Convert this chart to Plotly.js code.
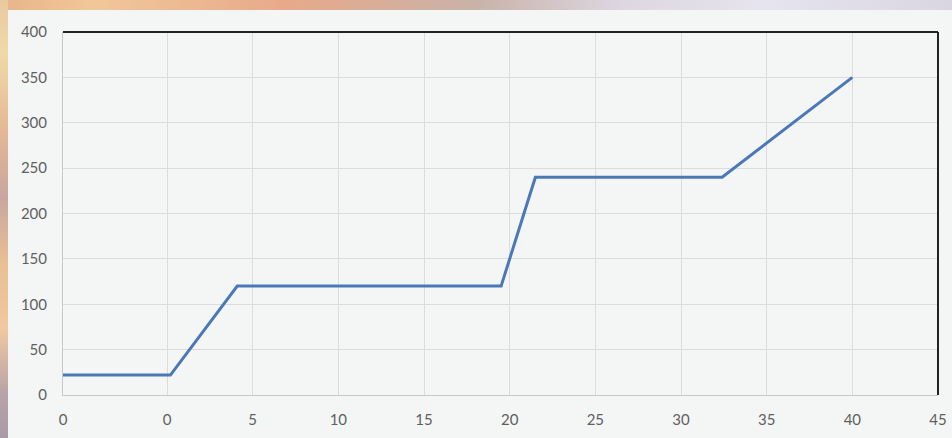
<!DOCTYPE html>
<html>
<head>
<meta charset="utf-8">
<script src="https://cdn.plot.ly/plotly-3.0.1.min.js"></script>
<style>
  html, body { margin: 0; padding: 0; width: 952px; height: 438px; overflow: hidden; }
  body {
    background:
      linear-gradient(90deg, #e9b48a 0%, #f1c79a 10%, #e8a98a 30%, #c9b2a8 50%, #dcd6e0 65%, #e6e4ee 80%, #d9d6e2 100%);
    position: relative;
  }
  #leftstrip {
    position: absolute; left: 0; top: 0; width: 8px; height: 438px;
    background: linear-gradient(180deg, #e8c9a0 0%, #f0d9a8 12%, #e4b894 30%, #c8a6a0 45%, #e9bf93 60%, #f0c9a0 75%, #b8a2a8 90%, #a99aa6 100%);
  }
  #panel {
    position: absolute; left: 8px; top: 10px; width: 944px; height: 428px;
    background: #f4f6f5;
  }
  #chart { position: absolute; left: 0; top: 0; width: 952px; height: 438px; }
</style>
</head>
<body>
<div id="leftstrip"></div>
<div id="panel"></div>
<div id="chart"></div>
<script>
// Data
const xValues = [-6.07, 0.2, 4.1, 19.5, 21.5, 32.4, 40];
const yValues = [22, 22, 120, 120, 240, 240, 350];
const xTickVals = [-6.07, 0, 5, 10, 15, 20, 25, 30, 35, 40, 45];
const xTickText = ["0", "0", "5", "10", "15", "20", "25", "30", "35", "40", "45"];
const yTickVals = [0, 50, 100, 150, 200, 250, 300, 350, 400];

const trace = {
  x: xValues,
  y: yValues,
  type: 'scatter',
  mode: 'lines',
  line: { color: '#4b78b6', width: 3 },
  hoverinfo: 'skip'
};

const layout = {
  width: 952,
  height: 438,
  margin: { l: 63, r: 14, t: 32, b: 43 },
  paper_bgcolor: 'rgba(0,0,0,0)',
  plot_bgcolor: '#f4f6f5',
  showlegend: false,
  font: { family: 'Lato, "Open Sans", sans-serif', size: 15, color: '#5f5f5f' },
  xaxis: {
    range: [-6.07, 45],
    tickmode: 'array',
    tickvals: xTickVals,
    ticktext: xTickText,
    showgrid: true,
    gridcolor: '#dcdcdc',
    gridwidth: 1,
    zeroline: false,
    showline: true,
    linecolor: '#c8c8c8',
    linewidth: 1,
    ticks: '',
    ticklabelstandoff: 11,
    tickfont: { size: 15, color: '#5f5f5f' }
  },
  yaxis: {
    range: [0, 400],
    tickmode: 'array',
    tickvals: yTickVals,
    showgrid: true,
    gridcolor: '#dcdcdc',
    gridwidth: 1,
    zeroline: false,
    showline: true,
    linecolor: '#c8c8c8',
    linewidth: 1,
    ticks: '',
    ticklabelstandoff: 12,
    tickfont: { size: 15, color: '#5f5f5f' }
  },
  shapes: [
    { type: 'line', xref: 'paper', yref: 'paper', x0: 0, x1: 1, y0: 1, y1: 1,
      line: { color: '#222222', width: 2 } },
    { type: 'line', xref: 'paper', yref: 'paper', x0: 1, x1: 1, y0: 0, y1: 1,
      line: { color: '#222222', width: 2 } }
  ]
};

Plotly.newPlot('chart', [trace], layout, { staticPlot: true, displayModeBar: false });
</script>
</body>
</html>
